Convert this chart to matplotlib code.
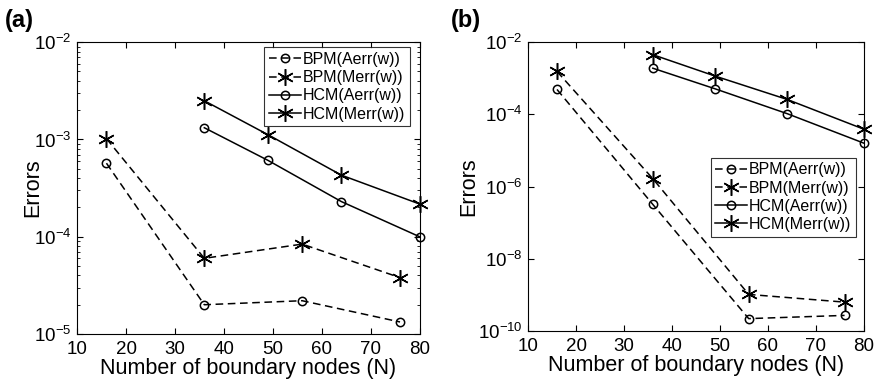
"""Error vs number of boundary nodes for BPM and HCM, two panels."""

import matplotlib

matplotlib.use("Agg")

import matplotlib.pyplot as plt
from matplotlib.ticker import LogLocator, NullLocator

plt.rcParams["font.family"] = ["Liberation Sans", "DejaVu Sans"]
plt.rcParams["mathtext.fontset"] = "custom"
plt.rcParams["mathtext.rm"] = "Liberation Sans"
plt.rcParams["mathtext.it"] = "Liberation Sans"
plt.rcParams["mathtext.default"] = "regular"

# panel (a)
bpm_n = [16, 36, 56, 76]
hcm_n = [36, 49, 64, 80]
a_bpm_aerr = [5.7e-4, 2.0e-5, 2.2e-5, 1.33e-5]
a_bpm_merr = [1.02e-3, 6.0e-5, 8.4e-5, 3.8e-5]
a_hcm_aerr = [1.32e-3, 6.1e-4, 2.3e-4, 1.0e-4]
a_hcm_merr = [2.5e-3, 1.12e-3, 4.3e-4, 2.17e-4]

# panel (b)
b_bpm_aerr = [4.9e-4, 3.2e-7, 2.2e-10, 2.7e-10]
b_bpm_merr = [1.55e-3, 1.65e-6, 1.03e-9, 6.3e-10]
b_hcm_aerr = [1.9e-3, 5.1e-4, 1.05e-4, 1.6e-5]
b_hcm_merr = [4.5e-3, 1.15e-3, 2.6e-4, 3.9e-5]

labels = ["BPM(Aerr(w))", "BPM(Merr(w))", "HCM(Aerr(w))", "HCM(Merr(w))"]
xticks = [10, 20, 30, 40, 50, 60, 70, 80]

STAR = (6, 2, 0)


def draw_panel(ax, series, ylim, yticks, minor, legend_anchor, ylabel_x):
    styles = [
        dict(ls=(0, (5, 3)), marker="o", ms=6),
        dict(ls=(0, (5, 3)), marker=STAR, ms=12),
        dict(ls="-", marker="o", ms=6),
        dict(ls="-", marker=STAR, ms=12),
    ]
    xs = [bpm_n, bpm_n, hcm_n, hcm_n]
    for x, y, lab, st in zip(xs, series, labels, styles):
        ax.semilogy(x, y, color="black", lw=1.1, mfc="none", mec="black", mew=1.1,
                    label=lab, clip_on=False, zorder=3, **st)
    ax.set_xlim(10, 80)
    ax.set_ylim(*ylim)
    ax.set_xticks(xticks)
    ax.set_yticks(yticks)
    if minor:
        ax.yaxis.set_minor_locator(LogLocator(base=10, subs=range(2, 10)))
    else:
        ax.yaxis.set_minor_locator(NullLocator())
    ax.tick_params(which="both", direction="in", top=True, right=True, labelsize=13.5)
    ax.tick_params(which="major", length=4)
    ax.tick_params(which="minor", length=2)
    ax.tick_params(axis="x", pad=5)
    ax.tick_params(axis="y", pad=4)
    ax.set_xlabel("Number of boundary nodes (N)", fontsize=15.5, labelpad=0)
    ax.set_ylabel("Errors", fontsize=15.5)
    ax.yaxis.set_label_coords(ylabel_x, 0.5)
    for sp in ax.spines.values():
        sp.set_linewidth(0.8)
    leg = ax.legend(loc="upper right", bbox_to_anchor=legend_anchor, fontsize=11.5,
                    frameon=True, fancybox=False, edgecolor="black",
                    handlelength=2.0, handletextpad=0.1, borderpad=0.3,
                    labelspacing=0.2, borderaxespad=0)
    leg.get_frame().set_linewidth(0.8)
    leg.set_zorder(5)


fig = plt.figure(figsize=(8.76, 3.8), dpi=100)
ax_a = fig.add_axes([0.088, 0.121, 0.391, 0.768])
ax_b = fig.add_axes([0.603, 0.129, 0.383, 0.760])

draw_panel(ax_a, [a_bpm_aerr, a_bpm_merr, a_hcm_aerr, a_hcm_merr],
           (1e-5, 1e-2), [1e-5, 1e-4, 1e-3, 1e-2], True, (0.971, 0.983), -0.10)
draw_panel(ax_b, [b_bpm_aerr, b_bpm_merr, b_hcm_aerr, b_hcm_merr],
           (1e-10, 1e-2), [1e-10, 1e-8, 1e-6, 1e-4, 1e-2], False,
           (0.977, 0.60), -0.145)

fig.text(0.005, 0.945, "(a)", fontsize=17, fontweight="bold", va="center")
fig.text(0.515, 0.945, "(b)", fontsize=17, fontweight="bold", va="center")

fig.savefig("out.png", dpi=100)
